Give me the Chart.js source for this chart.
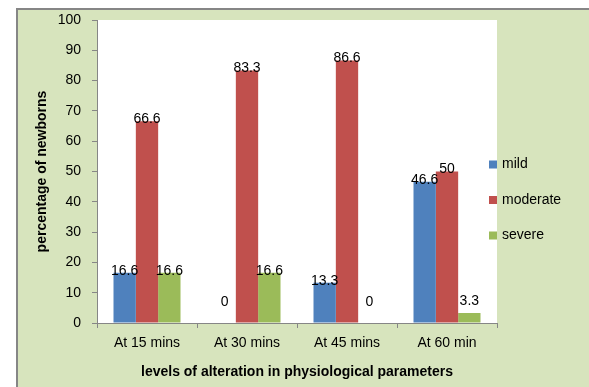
<!DOCTYPE html>
<html>
<head>
<meta charset="utf-8">
<title>Levels of alteration</title>
<script src="https://cdn.jsdelivr.net/npm/chart.js@4.4.0/dist/chart.umd.min.js"></script>
<style>
    html, body { margin: 0; padding: 0; background: #ffffff; }
    #chart-wrap { position: relative; width: 589px; height: 387px; }
</style>
</head>
<body>
<div id="chart-wrap"><canvas id="alteration-chart" width="589" height="387"></canvas></div>
<script>
// Chart data
const categories = ['At 15 mins', 'At 30 mins', 'At 45 mins', 'At 60 min'];
const seriesNames = ['mild', 'moderate', 'severe'];
const mildValues = [16.6, 0, 13.3, 46.6];
const moderateValues = [66.6, 83.3, 86.6, 50];
const severeValues = [16.6, 16.6, 0, 3.3];
const yTicks = [0, 10, 20, 30, 40, 50, 60, 70, 80, 90, 100];

// Colours and fonts
const seriesColors = ['#4F81BD', '#C0504D', '#9BBB59'];
const axisColor = '#868686';
const panelColor = '#D7E4BD';
const fontFamily = '"Liberation Sans", Arial, sans-serif';
const textSize = 14;

// Green panel with grey frame, white plot area
const backgroundPlugin = {
    id: 'panelBackground',
    beforeDraw(chart) {
        const ctx = chart.ctx;
        const area = chart.chartArea;
        ctx.save();
        ctx.fillStyle = panelColor;
        ctx.fillRect(16, 8, chart.width - 16, chart.height - 8);
        ctx.fillStyle = axisColor;
        ctx.fillRect(16, 8, chart.width - 16, 2);
        ctx.fillRect(16, 8, 2, chart.height - 8);
        ctx.fillStyle = '#ffffff';
        ctx.fillRect(area.left, area.top, area.right - area.left, area.bottom - area.top);
        ctx.restore();
    }
};

// Value labels over each bar
const valueLabelPlugin = {
    id: 'valueLabels',
    afterDatasetsDraw(chart) {
        const ctx = chart.ctx;
        ctx.save();
        ctx.font = textSize + 'px ' + fontFamily;
        ctx.fillStyle = '#000000';
        ctx.textAlign = 'center';
        ctx.textBaseline = 'middle';
        chart.data.datasets.forEach((ds, i) => {
            const meta = chart.getDatasetMeta(i);
            meta.data.forEach((bar, j) => {
                const y = Math.min(bar.y - 2, bar.base - 21);
                ctx.fillText(String(ds.data[j]), bar.x, y);
            });
        });
        ctx.restore();
    }
};

// Legend on the right, square keys
const sideLegendPlugin = {
    id: 'sideLegend',
    afterDraw(chart) {
        const ctx = chart.ctx;
        const area = chart.chartArea;
        const step = 35.5;
        const startY = 164.5;
        ctx.save();
        ctx.font = textSize + 'px ' + fontFamily;
        ctx.textAlign = 'left';
        ctx.textBaseline = 'middle';
        chart.data.datasets.forEach((ds, i) => {
            const y = startY + i * step;
            ctx.fillStyle = ds.backgroundColor;
            ctx.fillRect(area.right - 8, y - 4, 8, 8);
            ctx.fillStyle = '#000000';
            ctx.fillText(ds.label, area.right + 5, y);
        });
        ctx.restore();
    }
};

// Build datasets
const seriesValues = [mildValues, moderateValues, severeValues];
const datasets = seriesNames.map((name, i) => ({
    label: name,
    data: seriesValues[i],
    backgroundColor: seriesColors[i],
    borderWidth: 0,
    categoryPercentage: 0.67,
    barPercentage: 1.0
}));

// Render chart
const chartCtx = document.getElementById('alteration-chart');
const alterationChart = new Chart(chartCtx, {
    type: 'bar',
    data: {
        labels: categories,
        datasets: datasets
    },
    options: {
        responsive: false,
        animation: false,
        layout: {
            padding: { left: 30, right: 92, top: 20, bottom: 0 }
        },
        plugins: {
            legend: { display: false },
            tooltip: { enabled: false }
        },
        scales: {
            x: {
                grid: {
                    offset: true,
                    drawOnChartArea: false,
                    color: axisColor,
                    tickLength: 5
                },
                border: { color: axisColor, width: 1 },
                ticks: {
                    color: '#000000',
                    padding: 7,
                    font: { family: fontFamily, size: textSize }
                },
                title: {
                    display: true,
                    text: 'levels of alteration in physiological parameters',
                    color: '#000000',
                    padding: { top: 6, bottom: 6 },
                    font: { family: fontFamily, size: 14, weight: 'bold' }
                },
                afterFit(scale) {
                    scale.height = 64;
                }
            },
            y: {
                min: 0,
                max: 100,
                afterBuildTicks(scale) {
                    scale.ticks = yTicks.map(v => ({ value: v }));
                },
                grid: {
                    drawOnChartArea: false,
                    color: axisColor,
                    tickLength: 5
                },
                border: { color: axisColor, width: 1 },
                ticks: {
                    color: '#000000',
                    padding: 11,
                    font: { family: fontFamily, size: textSize }
                },
                title: {
                    display: true,
                    text: 'percentage of newborns',
                    color: '#000000',
                    padding: { top: 4, bottom: 4 },
                    font: { family: fontFamily, size: 14, weight: 'bold' }
                },
                afterFit(scale) {
                    scale.width = 67;
                }
            }
        }
    },
    plugins: [backgroundPlugin, valueLabelPlugin, sideLegendPlugin]
});
</script>
</body>
</html>
